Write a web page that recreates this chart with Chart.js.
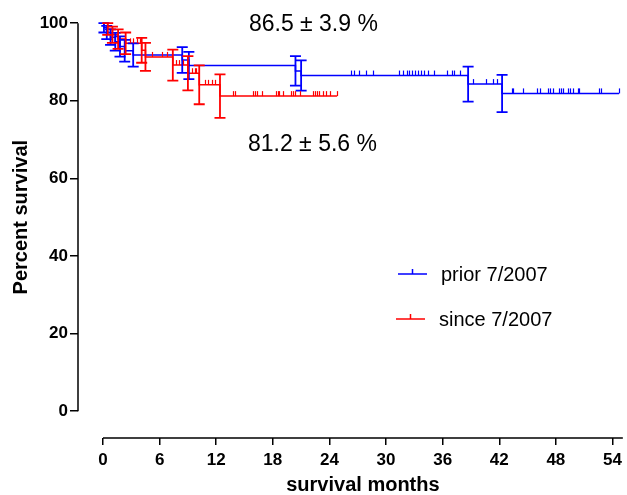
<!DOCTYPE html>
<html>
<head>
<meta charset="utf-8">
<script src="https://cdn.jsdelivr.net/npm/chart.js@4.4.1/dist/chart.umd.min.js"></script>
<style>
  html, body { margin: 0; padding: 0; background: #fff; }
  canvas { display: block; }
</style>
</head>
<body>
<canvas id="myChart" width="627" height="495"></canvas>
<script>
// values (months / percent)
var xTicks = [0, 6, 12, 18, 24, 30, 36, 42, 48, 54];
var yTicks = [0, 20, 40, 60, 80, 100];

// prior 7/2007 (blue)
var priorTimes = [0.1, 0.4, 0.8, 1.3, 1.8, 2.3, 3.2, 8.4, 9.1, 20.4, 21.0, 38.7, 42.3];
var priorSurv  = [98.8, 97.6, 96.4, 95.2, 94.0, 92.9, 91.8, 90.5, 89.1, 87.7, 86.5, 84.3, 81.9];
var priorErr   = [1.2, 1.7, 2.0, 2.3, 2.6, 2.8, 3.0, 3.3, 3.5, 3.8, 3.9, 4.5, 4.8];
var priorCensored = [26.3, 26.6, 27.1, 27.9, 28.6, 31.4, 31.8, 32.2, 32.4, 32.8, 33.1, 33.4, 33.7,
  34.0, 34.4, 35.1, 36.5, 37.0, 37.2, 37.8, 39.2, 40.6, 41.3, 41.8, 43.3, 43.5, 44.5, 46.0, 46.3,
  47.2, 47.4, 47.7, 48.3, 48.5, 48.8, 49.3, 49.5, 49.8, 50.3, 50.5, 52.6, 52.8, 54.7];

// since 7/2007 (red)
var sinceTimes = [0.5, 1.0, 1.6, 2.4, 4.1, 4.5, 7.4, 9.0, 10.2, 12.4];
var sinceSurv  = [98.5, 97.0, 95.9, 94.8, 93.0, 91.3, 89.2, 87.1, 84.1, 81.2];
var sinceErr   = [1.5, 2.1, 2.5, 2.8, 3.2, 3.6, 4.0, 4.4, 5.0, 5.6];
var sinceCensored = [2.9, 3.2, 3.6, 3.9, 5.2, 6.3, 6.8, 7.7, 8.1, 8.5, 9.4, 9.7, 9.9, 10.8, 11.1,
  11.6, 11.9, 13.8, 14.0, 15.9, 16.1, 16.3, 16.8, 18.3, 18.5, 18.7, 19.1, 19.9, 20.1, 20.4, 20.9,
  22.3, 22.5, 22.7, 22.9, 23.3, 23.6, 24.1, 24.8];

var seriesNames = ["prior 7/2007", "since 7/2007"];
var noteTexts = ["86.5 \u00b1 3.9 %", "81.2 \u00b1 5.6 %"];

var BLUE = "#0000ff";
var RED = "#ff0000";
var FONT = "Arial, 'Liberation Sans', sans-serif";

function kmPoints(times, surv, censored) {
  var pts = [{ x: 0, y: 100 }];
  for (var i = 0; i < times.length; i++) pts.push({ x: times[i], y: surv[i] });
  var end = Math.max(times[times.length - 1], censored[censored.length - 1]);
  pts.push({ x: end, y: surv[surv.length - 1] });
  return pts;
}

function levelAt(times, surv, t) {
  var s = 100;
  for (var i = 0; i < times.length; i++) if (times[i] <= t) s = surv[i];
  return s;
}

var groups = [
  { times: priorTimes, surv: priorSurv, err: priorErr, cens: priorCensored, color: BLUE },
  { times: sinceTimes, surv: sinceSurv, err: sinceErr, cens: sinceCensored, color: RED }
];

// error bars, censor ticks, axis lines, titles, notes and legend
var kmPlugin = {
  id: "kmExtras",
  afterDatasetsDraw: function (chart) {
    var ctx = chart.ctx;
    var xs = chart.scales.x, ys = chart.scales.y;
    ctx.save();
    groups.forEach(function (g) {
      ctx.strokeStyle = g.color;
      ctx.lineWidth = 1.8;
      for (var i = 0; i < g.times.length; i++) {
        var px = xs.getPixelForValue(g.times[i]);
        var top = ys.getPixelForValue(g.surv[i] + g.err[i]);
        var bot = ys.getPixelForValue(g.surv[i] - g.err[i]);
        ctx.beginPath();
        ctx.moveTo(px, top); ctx.lineTo(px, bot);
        ctx.moveTo(px - 5.5, top); ctx.lineTo(px + 5.5, top);
        ctx.moveTo(px - 5.5, bot); ctx.lineTo(px + 5.5, bot);
        ctx.stroke();
      }
      ctx.lineWidth = 1.2;
      g.cens.forEach(function (c) {
        var px = Math.round(xs.getPixelForValue(c)) + 0.5;
        var py = ys.getPixelForValue(levelAt(g.times, g.surv, c));
        ctx.beginPath();
        ctx.moveTo(px, py); ctx.lineTo(px, py - 5);
        ctx.stroke();
      });
    });
    ctx.restore();
  },
  afterDraw: function (chart) {
    var ctx = chart.ctx;
    var xs = chart.scales.x, ys = chart.scales.y;
    var area = chart.chartArea;
    ctx.save();
    // detached axis lines
    ctx.strokeStyle = "#000";
    ctx.lineWidth = 1.5;
    ctx.beginPath();
    ctx.moveTo(area.left, ys.getPixelForValue(0));
    ctx.lineTo(area.left, ys.getPixelForValue(100));
    ctx.moveTo(xs.getPixelForValue(0), area.bottom);
    ctx.lineTo(area.right, area.bottom);
    ctx.stroke();

    // axis titles
    ctx.fillStyle = "#000";
    ctx.font = "bold 20px " + FONT;
    ctx.textAlign = "center";
    ctx.textBaseline = "middle";
    var xMid = (xs.getPixelForValue(0) + area.right) / 2;
    ctx.fillText("survival months", xMid, 485);
    ctx.save();
    ctx.translate(21, (ys.getPixelForValue(0) + ys.getPixelForValue(100)) / 2);
    ctx.rotate(-Math.PI / 2);
    ctx.fillText("Percent survival", 0, 0);
    ctx.restore();

    // notes
    ctx.font = "23px " + FONT;
    ctx.fillText(noteTexts[0], xs.getPixelForValue(22.3), ys.getPixelForValue(99.7));
    ctx.fillText(noteTexts[1], xs.getPixelForValue(22.2), ys.getPixelForValue(68.8));

    // legend
    ctx.font = "20px " + FONT;
    ctx.textAlign = "left";
    var rows = [{ y: 274, x0: 398, color: BLUE }, { y: 319, x0: 396, color: RED }];
    rows.forEach(function (r, i) {
      ctx.strokeStyle = r.color;
      ctx.lineWidth = 1.5;
      ctx.beginPath();
      ctx.moveTo(r.x0, r.y); ctx.lineTo(r.x0 + 29, r.y);
      ctx.moveTo(r.x0 + 14.5, r.y); ctx.lineTo(r.x0 + 14.5, r.y - 5);
      ctx.stroke();
      ctx.fillStyle = "#000";
      ctx.fillText(seriesNames[i], r.x0 + 43, r.y + 1);
    });
    ctx.restore();
  }
};

var ctx = document.getElementById("myChart");
var myChart = new Chart(ctx, {
  type: "line",
  data: {
    datasets: [
      {
        label: seriesNames[1],
        data: kmPoints(sinceTimes, sinceSurv, sinceCensored),
        borderColor: RED,
        borderWidth: 1.5,
        stepped: "before",
        pointRadius: 0,
        fill: false,
        order: 0
      },
      {
        label: seriesNames[0],
        data: kmPoints(priorTimes, priorSurv, priorCensored),
        borderColor: BLUE,
        borderWidth: 1.5,
        stepped: "before",
        pointRadius: 0,
        fill: false,
        order: 1
      }
    ]
  },
  options: {
    responsive: false,
    animation: false,
    devicePixelRatio: 1,
    layout: { padding: { top: 22, right: 4, left: 0, bottom: 0 } },
    plugins: {
      legend: { display: false },
      tooltip: { enabled: false }
    },
    scales: {
      x: {
        type: "linear",
        min: -2.65,
        max: 55.1,
        afterBuildTicks: function (s) { s.ticks = xTicks.map(function (v) { return { value: v }; }); },
        afterFit: function (s) { s.height = 57; },
        border: { display: false },
        grid: { drawOnChartArea: false, drawTicks: true, tickLength: 7, color: "#000", lineWidth: 1.5 },
        ticks: { color: "#000", font: { family: FONT, size: 17, weight: "bold" }, padding: 5, maxRotation: 0 }
      },
      y: {
        type: "linear",
        min: -6.9,
        max: 100.3,
        afterBuildTicks: function (s) { s.ticks = yTicks.map(function (v) { return { value: v }; }); },
        afterFit: function (s) { s.width = 78; },
        border: { display: false },
        grid: { drawOnChartArea: false, drawTicks: true, tickLength: 8, color: "#000", lineWidth: 1.5 },
        ticks: { color: "#000", font: { family: FONT, size: 17, weight: "bold" }, padding: 2 }
      }
    }
  },
  plugins: [kmPlugin]
});
</script>
</body>
</html>
